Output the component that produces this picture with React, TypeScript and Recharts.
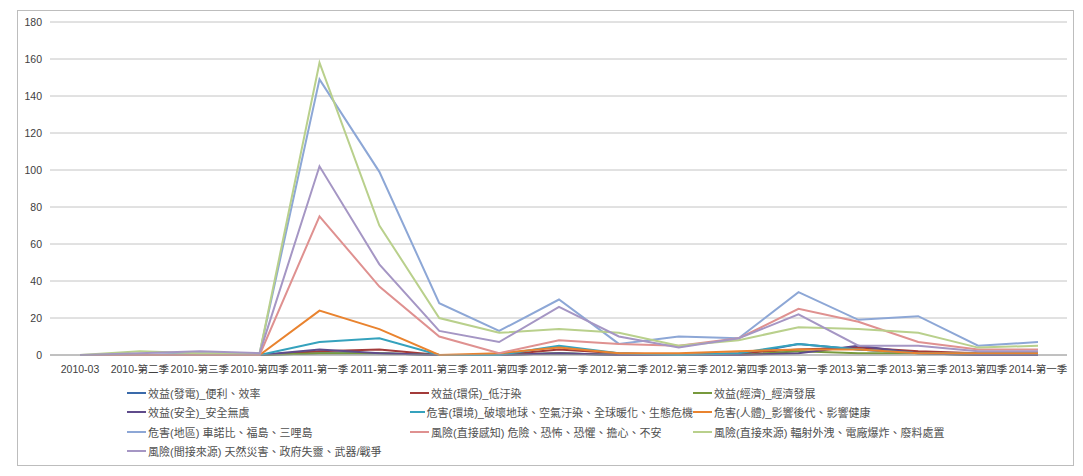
import { LineChart, Line, XAxis, YAxis, CartesianGrid, Legend } from "recharts";

const quarters = [
  "2010-03", "2010-第二季", "2010-第三季", "2010-第四季",
  "2011-第一季", "2011-第二季", "2011-第三季", "2011-第四季",
  "2012-第一季", "2012-第二季", "2012-第三季", "2012-第四季",
  "2013-第一季", "2013-第二季", "2013-第三季", "2013-第四季",
  "2014-第一季",
];

const yTicks = [0, 20, 40, 60, 80, 100, 120, 140, 160, 180];

const powerConvenience = [0, 0, 0, 0, 1, 1, 0, 0, 1, 0, 0, 0, 6, 3, 1, 0, 0];
const lowPollution = [0, 0, 0, 0, 2, 3, 0, 0, 3, 1, 0, 1, 3, 4, 2, 1, 1];
const economy = [0, 0, 0, 0, 1, 1, 0, 0, 1, 0, 0, 0, 2, 1, 1, 0, 0];
const safety = [0, 0, 0, 0, 3, 1, 0, 0, 1, 0, 0, 0, 1, 5, 1, 0, 0];
const envHarm = [0, 0, 0, 0, 7, 9, 0, 0, 5, 1, 0, 1, 6, 3, 1, 1, 1];
const bodyHarm = [0, 0, 0, 0, 24, 14, 0, 1, 4, 1, 1, 2, 3, 3, 1, 1, 1];
const regionHarm = [0, 0, 1, 1, 149, 99, 28, 13, 30, 6, 10, 9, 34, 19, 21, 5, 7];
const perceivedRisk = [0, 0, 0, 0, 75, 37, 10, 1, 8, 6, 5, 9, 25, 18, 7, 3, 3];
const directRisk = [0, 2, 1, 1, 158, 70, 20, 12, 14, 12, 5, 8, 15, 14, 12, 4, 5];
const indirectRisk = [0, 1, 2, 1, 102, 49, 13, 7, 26, 10, 4, 9, 22, 5, 5, 2, 2];

const series = [
  { key: "s1", name: "效益(發電)_便利、效率", values: powerConvenience, color: "#3a6aaa" },
  { key: "s2", name: "效益(環保)_低汙染", values: lowPollution, color: "#a33b3a" },
  { key: "s3", name: "效益(經濟)_經濟發展", values: economy, color: "#77993c" },
  { key: "s4", name: "效益(安全)_安全無虞", values: safety, color: "#5f4b8b" },
  { key: "s5", name: "危害(環境)_破壞地球、空氣汙染、全球暖化、生態危機", values: envHarm, color: "#35a2bd" },
  { key: "s6", name: "危害(人體)_影響後代、影響健康", values: bodyHarm, color: "#e9832f" },
  { key: "s7", name: "危害(地區) 車諾比、福島、三哩島", values: regionHarm, color: "#8da7d6" },
  { key: "s8", name: "風險(直接感知) 危險、恐怖、恐懼、擔心、不安", values: perceivedRisk, color: "#df9190" },
  { key: "s9", name: "風險(直接來源) 輻射外洩、電廠爆炸、廢料處置", values: directRisk, color: "#b9d08c" },
  { key: "s10", name: "風險(間接來源) 天然災害、政府失靈、武器/戰爭", values: indirectRisk, color: "#a596c4" },
];

const chartData = quarters.map((q, i) => {
  const row: Record<string, string | number> = { quarter: q };
  series.forEach((s) => {
    row[s.key] = s.values[i];
  });
  return row;
});

const font = "'Liberation Sans', 'Noto Sans CJK TC', sans-serif";

const QuarterTick = (props: any) => {
  const { x, y, payload } = props;
  return (
    <text x={x} y={y + 18} textAnchor="middle" fontSize={10.5} fill="#404040" fontFamily={font}>
      {payload.value}
    </text>
  );
};

const GridLegend = () => (
  <div
    style={{
      display: "grid",
      gridTemplateColumns: "283px 283px 283px",
      gridAutoRows: "19.5px",
      marginLeft: 127,
      fontFamily: font,
      fontSize: 11,
      color: "#505050",
    }}
  >
    {series.map((s) => (
      <div key={s.key} style={{ display: "flex", alignItems: "center", whiteSpace: "nowrap" }}>
        <span style={{ display: "inline-block", width: 19, height: 2, background: s.color, marginRight: 2 }} />
        <span>{s.name}</span>
      </div>
    ))}
  </div>
);

export default function App() {
  return (
    <div style={{ position: "absolute", left: 0, top: 0, width: 1083, height: 476, background: "#fff" }}>
      <div
        style={{
          position: "absolute",
          left: 17,
          top: 10,
          width: 1055,
          height: 454,
          border: "1px solid #bdbdbd",
        }}
      />
      <div style={{ position: "absolute", left: 0, top: 0 }}>
        <LineChart
          width={1083}
          height={476}
          data={chartData}
          margin={{ top: 22, right: 16, left: 0, bottom: 91 }}
        >
          <CartesianGrid vertical={false} stroke="#c4c4c4" />
          <XAxis
            dataKey="quarter"
            interval={0}
            tickSize={0}
            tickMargin={0}
            height={30}
            padding={{ left: 30, right: 29 }}
            stroke="#a0a0a0"
            tick={<QuarterTick />}
          />
          <YAxis
            domain={[0, 180]}
            ticks={yTicks}
            width={50}
            axisLine={false}
            tickLine={false}
            tickSize={0}
            tickMargin={8}
            tick={{ fontSize: 10.5, fill: "#404040", fontFamily: font }}
          />
          <Legend
            verticalAlign="middle"
            align="center"
            layout="horizontal"
            content={<GridLegend />}
            wrapperStyle={{ top: 383, left: 0, width: 1083 }}
          />
          {series.map((s) => (
            <Line
              key={s.key}
              type="linear"
              dataKey={s.key}
              name={s.name}
              stroke={s.color}
              strokeWidth={2}
              dot={false}
              isAnimationActive={false}
            />
          ))}
        </LineChart>
      </div>
    </div>
  );
}
